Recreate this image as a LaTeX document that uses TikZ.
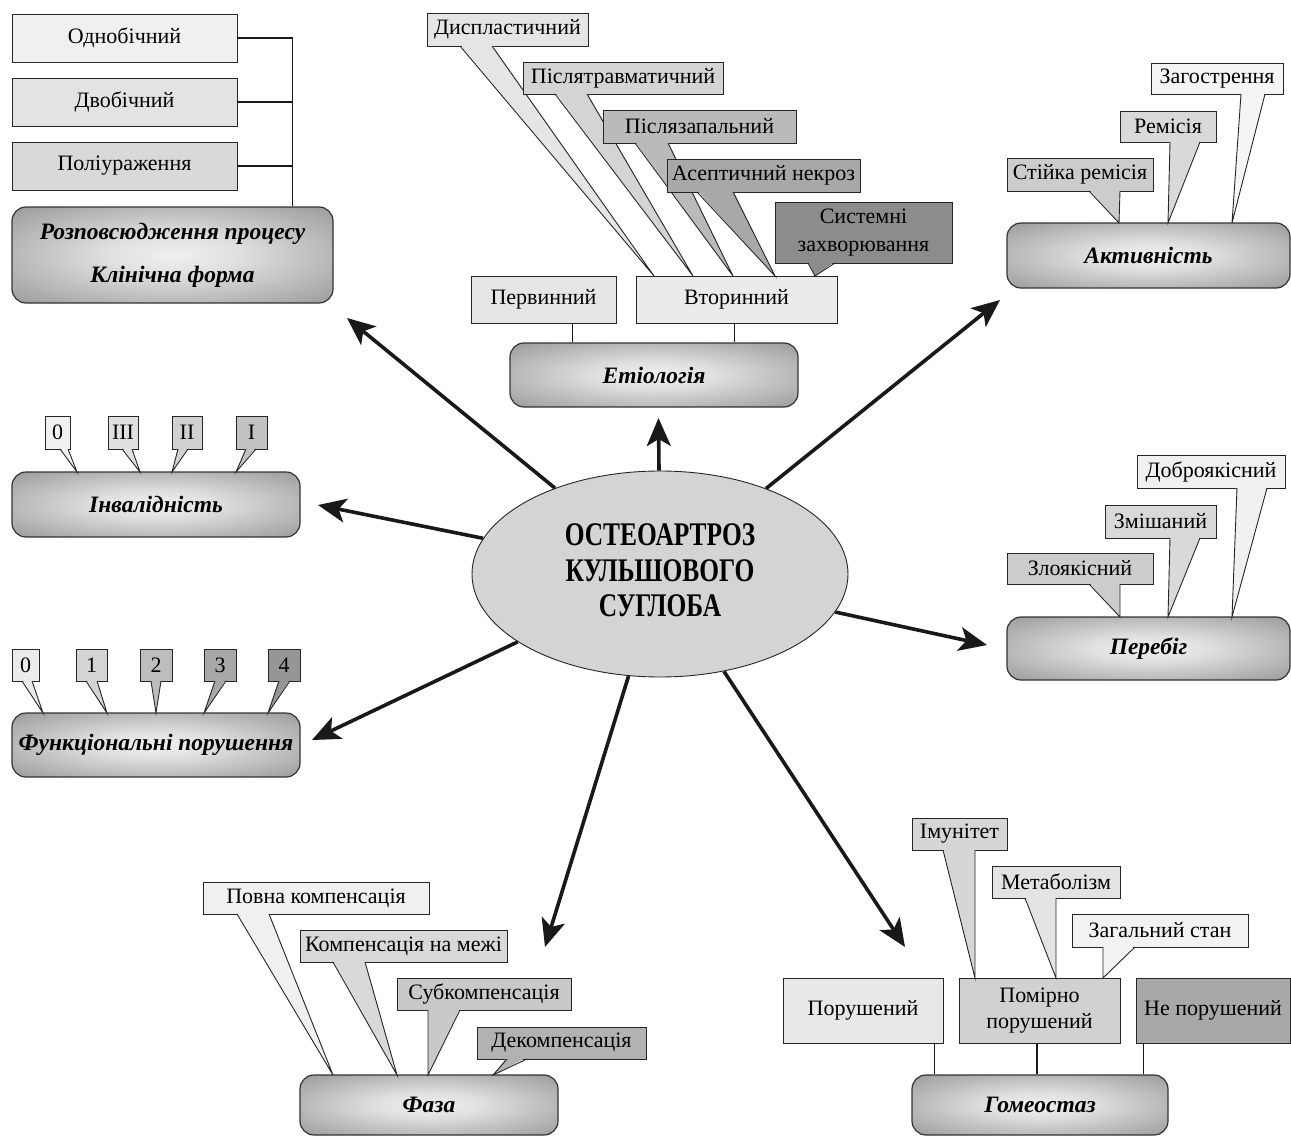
\documentclass[tikz,border=0pt]{standalone}
\usepackage{fontspec}
\setmainfont{Liberation Serif}
\usetikzlibrary{arrows.meta,shapes.geometric,calc}
\pgfdeclareradialshading{mainshade}{\pgfpoint{0bp}{0bp}}{color(0bp)=(black!6); color(10bp)=(black!12); color(50bp)=(black!55); color(72bp)=(black!58)}
\newcommand\ptr[6]{%
  \fill[#1] (#2,#4-1.6) -- (#5,#6) -- (#3,#4-1.6) -- cycle;
  \draw[ptrl] (#2,#4) -- (#5,#6) -- (#3,#4);}
\begin{document}
\begin{tikzpicture}[x=1pt,y=-1pt,
  cb/.style={draw=black!85, line width=0.9pt, inner sep=0pt, font=\fontsize{22}{25}\selectfont},
  mainbox/.style={draw=black!80, line width=1.2pt, rounded corners=14pt, shading=mainshade, inner sep=0pt, font=\fontsize{23.5}{27}\selectfont\bfseries\itshape},
  conn/.style={line width=1.4pt, draw=black!90},
  arr/.style={line width=3.6pt, draw=black!90, -{Stealth[length=28pt,width=24pt,inset=7pt]}},
  ptrl/.style={line width=0.9pt, draw=black!85}]
\useasboundingbox (0,0) rectangle (1291,1137);

% ---------- top-left: Розповсюдження процесу ----------
\node[cb, fill=black!6, minimum width=225, minimum height=48] (odn) at (124.5,38) {Однобічний};
\node[cb, fill=black!11, minimum width=225, minimum height=48] (dvo) at (124.5,102) {Двобічний};
\node[cb, fill=black!15, minimum width=225, minimum height=48] (pol) at (124.5,166) {Поліураження};
\node[mainbox, minimum width=321, minimum height=96, align=center, font=\fontsize{23.5}{43}\selectfont\bfseries\itshape] (rozp) at (172.5,255) {Розповсюдження процесу\\Клінічна форма};
\coordinate (spine) at ([xshift=-41pt]rozp.north east);
\draw[conn] (odn.east) -| (spine);
\draw[conn] (dvo.east) -- (dvo.east -| spine);
\draw[conn] (pol.east) -- (pol.east -| spine);

% ---------- Етіологія ----------
\node[cb, fill=black!10, minimum width=145, minimum height=47] (perv) at (543.5,299.5) {Первинний};
\node[cb, fill=black!8, minimum width=201, minimum height=47] (vtor) at (736.5,299.5) {Вторинний};
\node[cb, fill=black!10, minimum width=161, minimum height=33] (dysp) at (507.5,29.5) {Диспластичний};
\ptr{black!10}{460}{492}{46}{654}{276}
\node[cb, fill=black!17, minimum width=200, minimum height=32] (ptr) at (623,78) {Післятравматичний};
\ptr{black!17}{555}{587}{94}{693}{276}
\node[cb, fill=black!27, minimum width=193, minimum height=33] (pz) at (699.5,126.5) {Післязапальний};
\ptr{black!27}{635}{668}{143}{733}{276}
\node[cb, fill=black!34, minimum width=193, minimum height=33] (asep) at (763.5,175.5) {Асептичний некроз};
\ptr{black!34}{697}{733}{192}{775}{276}
\node[cb, fill=black!45, minimum width=177, minimum height=61, align=center, font=\fontsize{22}{28}\selectfont] (sys) at (863.5,232.5) {Системні\\захворювання};
\ptr{black!45}{808}{835}{263}{815}{276}
\node[mainbox, minimum width=288, minimum height=64] (etio) at (654,375) {Етіологія};
\draw[conn] ([xshift=63pt]etio.north west) -- ([xshift=63pt]etio.north west |- perv.south);
\draw[conn] ([xshift=-64pt]etio.north east) -- ([xshift=-64pt]etio.north east |- vtor.south);

% ---------- Активність ----------
\node[mainbox, minimum width=283, minimum height=65] (akt) at (1148.5,255.5) {Активність};
\node[cb, fill=black!4, minimum width=132, minimum height=31] (zag) at (1217,78.5) {Загострення};
\ptr{black!4}{1241}{1265}{94}{1232}{223}
\node[cb, fill=black!15, minimum width=96, minimum height=31] (rem) at (1168,126.5) {Ремісія};
\ptr{black!15}{1170}{1200}{142}{1168}{223}
\node[cb, fill=black!20, minimum width=146, minimum height=33] (st) at (1080,174.5) {Стійка ремісія};
\ptr{black!20}{1089}{1120}{191}{1119}{223}

% ---------- Перебіг ----------
\node[mainbox, minimum width=283, minimum height=63] (per) at (1148.5,648.5) {Перебіг};
\node[cb, fill=black!6, minimum width=148, minimum height=33] (dob) at (1211,471.5) {Доброякісний};
\ptr{black!6}{1237}{1267}{488}{1232}{617}
\node[cb, fill=black!15, minimum width=111, minimum height=33] (zm) at (1160.5,521.5) {Змішаний};
\ptr{black!15}{1170}{1200}{538}{1168}{617}
\node[cb, fill=black!20, minimum width=146, minimum height=31] (zl) at (1080,568.5) {Злоякісний};
\ptr{black!20}{1089}{1120}{584}{1120}{617}

% ---------- Інвалідність ----------
\node[mainbox, minimum width=288, minimum height=65] (inv) at (156,504.5) {Інвалідність};
\node[cb, fill=black!6, minimum width=25, minimum height=33] (i0) at (57.5,432.5) {0};
\ptr{black!6}{60}{68}{449}{77}{472}
\node[cb, fill=black!12, minimum width=30, minimum height=33] (i3) at (123,432.5) {III};
\ptr{black!12}{122}{132}{449}{140}{472}
\node[cb, fill=black!18, minimum width=30, minimum height=33] (i2) at (187,432.5) {II};
\ptr{black!18}{178}{188}{449}{172}{472}
\node[cb, fill=black!24, minimum width=31, minimum height=33] (i1) at (251.5,432.5) {I};
\ptr{black!24}{246}{256}{449}{236}{472}

% ---------- Функціональні порушення ----------
\node[mainbox, minimum width=288, minimum height=64] (fun) at (156,745) {Функціональні порушення};
\node[cb, fill=black!8, minimum width=27, minimum height=32] (f0) at (25.5,665) {0};
\ptr{black!8}{22}{32}{681}{43}{713}
\node[cb, fill=black!17, minimum width=31, minimum height=32] (f1) at (91.5,665) {1};
\ptr{black!17}{86}{97}{681}{107}{713}
\node[cb, fill=black!26, minimum width=32, minimum height=32] (f2) at (156,665) {2};
\ptr{black!26}{151}{161}{681}{156}{713}
\node[cb, fill=black!34, minimum width=32, minimum height=32] (f3) at (220,665) {3};
\ptr{black!34}{215}{226}{681}{204}{713}
\node[cb, fill=black!41, minimum width=32, minimum height=32] (f4) at (284,665) {4};
\ptr{black!41}{279}{290}{681}{268}{713}

% ---------- Фаза ----------
\node[mainbox, minimum width=258, minimum height=60] (faza) at (429,1105) {Фаза};
\node[cb, fill=black!6, minimum width=226, minimum height=32] (pk) at (316,898) {Повна компенсація};
\ptr{black!6}{237}{269}{914}{333}{1075}
\node[cb, fill=black!15, minimum width=207, minimum height=32] (km) at (403.5,946) {Компенсація на межі};
\ptr{black!15}{333}{365}{962}{397}{1075}
\node[cb, fill=black!21, minimum width=174, minimum height=32] (sk) at (484,994) {Субкомпенсація};
\ptr{black!21}{428}{460}{1010}{428}{1075}
\node[cb, fill=black!30, minimum width=169, minimum height=32] (dk) at (561.5,1043) {Декомпенсація};
\ptr{black!30}{507}{527}{1059}{493}{1075}

% ---------- Гомеостаз ----------
\node[cb, fill=black!9, minimum width=160, minimum height=65] (por) at (863,1010.5) {Порушений};
\node[cb, fill=black!18, minimum width=161, minimum height=65, align=center, font=\fontsize{22}{26}\selectfont] (pom) at (1039.5,1010.5) {Помірно\\порушений};
\node[cb, fill=black!34, minimum width=154, minimum height=65] (nep) at (1213,1010.5) {Не порушений};
\node[cb, fill=black!16, minimum width=95, minimum height=32] (imu) at (959.5,834) {Імунітет};
\ptr{black!16}{943}{975}{850}{975}{978}
\node[cb, fill=black!11, minimum width=128, minimum height=32] (met) at (1056,882) {Метаболізм};
\ptr{black!11}{1025}{1056}{898}{1056}{978}
\node[cb, fill=black!5, minimum width=176, minimum height=33] (zs) at (1160,930.5) {Загальний стан};
\ptr{black!5}{1103}{1135}{947}{1103}{978}
\node[mainbox, minimum width=256, minimum height=60] (gom) at (1040,1105) {Гомеостаз};
\draw[conn] ([xshift=23pt]gom.north west) -- ([xshift=23pt]gom.north west |- por.south);
\draw[conn] ([xshift=-3pt]gom.north) -- ([xshift=-3pt]gom.north |- pom.south);
\draw[conn] ([xshift=-25pt]gom.north east) -- ([xshift=-25pt]gom.north east |- nep.south);

% ---------- centre ----------
\node[ellipse, draw=black!85, line width=0.9pt, fill=black!17, minimum width=376, minimum height=206, inner sep=0pt] (ell) at (660,574) {\scalebox{0.77}[1]{\fontsize{33}{35.5}\selectfont\bfseries\begin{tabular}{@{}c@{}}ОСТЕОАРТРОЗ\\КУЛЬШОВОГО\\СУГЛОБА\end{tabular}}};

\coordinate (trozp) at (347,318);
\coordinate (tetio) at (658.5,418);
\coordinate (takt) at (1000,300);
\coordinate (tinv) at (318,505);
\coordinate (tfun) at (312,740);
\coordinate (tfaza) at (545,947);
\coordinate (tgom) at (905,947);
\coordinate (tper) at (987,645);
\foreach \t in {trozp,tetio,takt,tinv,tfun,tfaza,tgom,tper}
  \draw[arr] (ell) -- (\t);
\end{tikzpicture}
\end{document}
